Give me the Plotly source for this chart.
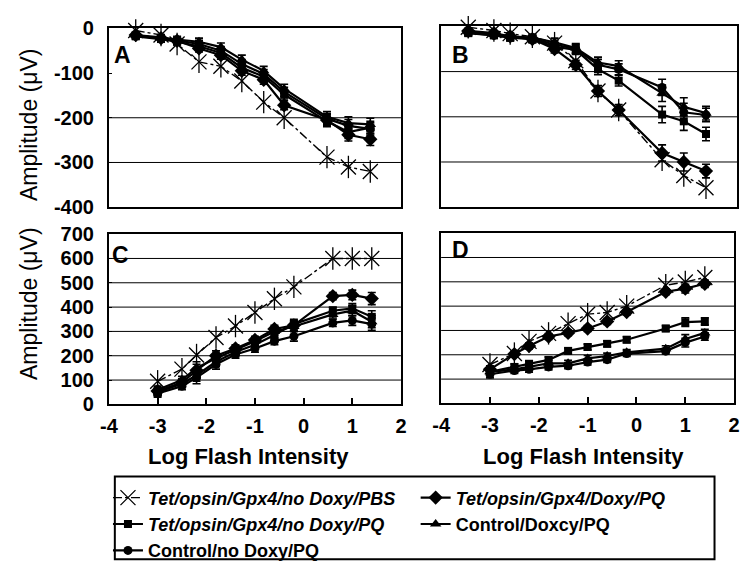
import plotly.graph_objects as go

# ---------------- data ----------------
x_top = [-3.45, -2.93, -2.6, -2.15, -1.7, -1.27, -0.82, -0.4, 0.48, 0.92, 1.37]
x_bottom = [-3.0, -2.5, -2.2, -1.8, -1.4, -1.0, -0.6, -0.2, 0.6, 1.0, 1.4]

series_names = [
    "<i>Tet/opsin/Gpx4/no Doxy/PBS</i>",
    "<i>Tet/opsin/Gpx4/Doxy/PQ</i>",
    "<i>Tet/opsin/Gpx4/no Doxy/PQ</i>",
    "Control/Doxcy/PQ",
    "Control/no Doxy/PQ",
]

# Panel A
A_pbs = [-5, -15, -35, -75, -85, -118, -165, -200, -288, -310, -320]
A_doxy_pq = [-15, -22, -28, -45, -60, -95, -115, -172, -205, -238, -248]
A_nodoxy_pq = [-18, -24, -30, -40, -55, -88, -108, -148, -208, -232, -222]
A_ctrl_doxy = [-15, -20, -25, -30, -42, -70, -95, -135, -198, -212, -215]
A_ctrl_nodoxy = [-17, -22, -27, -35, -50, -80, -102, -142, -202, -218, -225]
A_err = [6, 6, 7, 8, 9, 10, 10, 10, 12, 14, 14]

# Panel B
B_pbs = [-2, -9, -16, -23, -37, -76, -143, -185, -295, -330, -357]
B_doxy_pq = [-10, -15, -22, -28, -50, -85, -143, -185, -280, -300, -320]
B_nodoxy_pq = [-15, -20, -25, -28, -45, -52, -95, -120, -195, -210, -238]
B_ctrl_doxy = [-12, -18, -22, -25, -35, -48, -80, -88, -148, -178, -192]
B_ctrl_nodoxy = [-14, -20, -24, -27, -40, -50, -85, -95, -135, -190, -196]
B_err = [6, 6, 7, 8, 9, 10, 12, 12, 18, 20, 15]

# Panel C
C_pbs = [95, 145, 203, 275, 322, 378, 434, 483, 600, 600, 600]
C_doxy_pq = [55, 90, 140, 200, 230, 265, 310, 325, 445, 450, 435]
C_nodoxy_pq = [50, 85, 120, 175, 215, 245, 285, 330, 385, 395, 360]
C_ctrl_doxy = [60, 100, 150, 190, 225, 260, 300, 320, 370, 385, 340]
C_ctrl_nodoxy = [45, 75, 110, 165, 205, 230, 260, 280, 335, 345, 330]
C_err = [15, 15, 25, 20, 15, 15, 15, 20, 15, 20, 25]

# Panel D
D_pbs = [160, 205, 255, 288, 328, 367, 374, 400, 486, 499, 518]
D_doxy_pq = [140, 203, 236, 275, 290, 308, 337, 376, 459, 472, 492]
D_nodoxy_pq = [130, 150, 163, 179, 216, 232, 245, 262, 308, 334, 337]
D_ctrl_doxy = [130, 140, 150, 165, 165, 185, 195, 210, 225, 265, 290]
D_ctrl_nodoxy = [120, 135, 140, 150, 155, 170, 180, 205, 215, 250, 275]
D_err = [15, 12, 12, 12, 12, 12, 12, 12, 12, 18, 15]

# grid levels per panel
A_grid = [-200, -300]
B_grid = [-100, -200, -300]
C_grid = [100, 200, 300, 400, 500, 600]
D_grid = [100, 200, 300, 400, 500, 600]

top_ticks = [0, -100, -200, -300, -400]
top_tick_labels = ["0", "-100", "-200", "-300", "-400"]
bottom_ticks = [0, 100, 200, 300, 400, 500, 600, 700]
bottom_tick_labels = ["0", "100", "200", "300", "400", "500", "600", "700"]
x_ticks = [-4, -3, -2, -1, 0, 1, 2]
x_tick_labels = ["-4", "-3", "-2", "-1", "0", "1", "2"]

panel_letters = ["A", "B", "C", "D"]

# ---------------- figure ----------------
FONT = "Liberation Sans, Arial, sans-serif"
W, H = 746, 576
fig = go.Figure()

symbols = ["x-thin-open", "diamond", "square", "triangle-up", "circle"]
sizes = [15, 11, 8, 10, 9]
legend_of = ["legend", "legend2", "legend", "legend2", "legend"]

panels = [
    ("x", "y", x_top, [A_pbs, A_doxy_pq, A_nodoxy_pq, A_ctrl_doxy, A_ctrl_nodoxy], A_err, True),
    ("x2", "y2", x_top, [B_pbs, B_doxy_pq, B_nodoxy_pq, B_ctrl_doxy, B_ctrl_nodoxy], B_err, False),
    ("x3", "y3", x_bottom, [C_pbs, C_doxy_pq, C_nodoxy_pq, C_ctrl_doxy, C_ctrl_nodoxy], C_err, False),
    ("x4", "y4", x_bottom, [D_pbs, D_doxy_pq, D_nodoxy_pq, D_ctrl_doxy, D_ctrl_nodoxy], D_err, False),
]

for xa, ya, xs, ys_list, err, show in panels:
    for i in [4, 3, 2, 1]:
        fig.add_trace(go.Scatter(
            x=xs, y=ys_list[i], xaxis=xa, yaxis=ya, mode="lines+markers",
            name=series_names[i], legendgroup=str(i), showlegend=show, legendrank=i,
            legend=legend_of[i],
            line=dict(color="black", width=2.2),
            marker=dict(symbol=symbols[i], size=sizes[i], color="black"),
            error_y=dict(type="data", array=err, color="black", thickness=1.6, width=4),
            cliponaxis=False,
        ))
    fig.add_trace(go.Scatter(
        x=xs, y=ys_list[0], xaxis=xa, yaxis=ya, mode="lines+markers",
        name=series_names[0], legendgroup="0", showlegend=show, legendrank=0,
        legend=legend_of[0],
        line=dict(color="black", width=1.4, dash="dashdot"),
        marker=dict(symbol="x-thin-open", size=15, color="black", line=dict(width=1.3, color="black")),
        cliponaxis=False,
    ))
    fig.add_trace(go.Scatter(
        x=xs, y=ys_list[0], xaxis=xa, yaxis=ya, mode="markers",
        showlegend=False, legendgroup="0", hoverinfo="skip",
        marker=dict(symbol="line-ns-open", size=16, color="black", line=dict(width=1.3, color="black")),
        cliponaxis=False,
    ))

def px_x(a, b):
    return [a / W, b / W]
def px_y(top, bottom):
    return [1 - bottom / H, 1 - top / H]

dom = {
    "A": (px_x(102, 400), px_y(18, 204)),
    "B": (px_x(441, 743), px_y(16, 204)),
    "C": (px_x(102, 400), px_y(232, 409)),
    "D": (px_x(441, 740), px_y(231, 408)),
}

tickfont = dict(family=FONT, size=20, color="black", weight="bold")

def xaxis(d, labels, anchor):
    return dict(domain=d, anchor=anchor, range=[-4, 2], tickvals=x_ticks, ticktext=x_tick_labels,
                showticklabels=labels,
                ticks="inside" if labels else "", ticklen=6, tickwidth=2, tickcolor="black",
                showline=True, mirror=True, linecolor="black", linewidth=2,
                showgrid=False, zeroline=False, tickfont=tickfont, ticklabelstandoff=3)

def yaxis(d, rng, tv, tt, labels, anchor):
    return dict(domain=d, anchor=anchor, range=rng, tickvals=tv, ticktext=tt, showticklabels=labels,
                ticks="inside" if labels else "", ticklen=3, tickwidth=1, tickcolor="black",
                showline=True, mirror=True, linecolor="black", linewidth=2,
                showgrid=False, zeroline=False, tickfont=tickfont, ticklabelstandoff=9)

legend_font = dict(family=FONT, size=18, color="black", weight="bold")

fig.update_layout(
    width=W, height=H, margin=dict(l=0, r=0, t=0, b=0),
    paper_bgcolor="white", plot_bgcolor="white",
    font=dict(family=FONT, color="black"),
    xaxis=xaxis(dom["A"][0], False, "y"),
    yaxis=yaxis(dom["A"][1], [-400, 0], top_ticks, top_tick_labels, True, "x"),
    xaxis2=xaxis(dom["B"][0], False, "y2"),
    yaxis2=yaxis(dom["B"][1], [-400, 0], top_ticks, top_tick_labels, False, "x2"),
    xaxis3=xaxis(dom["C"][0], True, "y3"),
    yaxis3=yaxis(dom["C"][1], [0, 700], bottom_ticks, bottom_tick_labels, True, "x3"),
    xaxis4=xaxis(dom["D"][0], True, "y4"),
    yaxis4=yaxis(dom["D"][1], [0, 700], bottom_ticks, bottom_tick_labels, False, "x4"),
    showlegend=True,
    legend=dict(orientation="v", x=101 / W, y=1 - 487 / H, xanchor="left", yanchor="top",
                bgcolor="rgba(0,0,0,0)", borderwidth=0, font=legend_font,
                tracegroupgap=0, itemwidth=30, traceorder="normal"),
    legend2=dict(orientation="v", x=415 / W, y=1 - 487 / H, xanchor="left", yanchor="top",
                 bgcolor="rgba(0,0,0,0)", borderwidth=0, font=legend_font,
                 tracegroupgap=0, itemwidth=30, traceorder="normal"),
)

# legend frame
fig.add_shape(type="rect", xref="paper", yref="paper", x0=108 / W, x1=720 / W,
              y0=1 - 570 / H, y1=1 - 484 / H, line=dict(color="black", width=2),
              fillcolor="rgba(0,0,0,0)", layer="above")

# grid lines as shapes
for (xa, ya, levels) in [("x", "y", A_grid), ("x2", "y2", B_grid), ("x3", "y3", C_grid), ("x4", "y4", D_grid)]:
    for lv in levels:
        fig.add_shape(type="line", xref=xa + " domain", yref=ya, x0=0, x1=1, y0=lv, y1=lv,
                      line=dict(color="black", width=1), layer="below")

# panel letters (pixel positions of their top-left corners)
letter_pos = {"A": (106, 31), "B": (451, 31), "C": (104, 239), "D": (451, 234)}
for letter in panel_letters:
    lx, ly = letter_pos[letter]
    fig.add_annotation(text="<b>" + letter + "</b>", xref="paper", yref="paper",
                       x=lx / W, y=1 - ly / H, xanchor="left", yanchor="top",
                       showarrow=False, borderpad=0,
                       font=dict(family=FONT, size=23, color="black"))

# axis titles
for yc in [1 - 118 / H, 1 - 304 / H]:
    fig.add_annotation(text="Amplitude (μV)", xref="paper", yref="paper", x=21 / W, y=yc,
                       textangle=-90, showarrow=False, xanchor="center", yanchor="middle",
                       font=dict(family=FONT, size=23, color="black"))
for xc in [244 / W, 586 / W]:
    fig.add_annotation(text="<b>Log Flash Intensity</b>", xref="paper", yref="paper", x=xc, y=1 - 463 / H,
                       showarrow=False, xanchor="center", yanchor="middle",
                       font=dict(family=FONT, size=22, color="black"))

fig.write_html("out.html")
